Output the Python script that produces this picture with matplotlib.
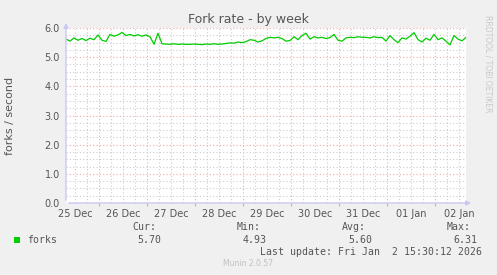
import matplotlib
matplotlib.use('Agg')
import matplotlib.pyplot as plt
import matplotlib.dates as mdates
from matplotlib.patches import Rectangle
from matplotlib.ticker import MultipleLocator, FuncFormatter
import numpy as np
import pandas as pd

# fork rate, 2-hour samples from 25 Dec 07:30 to 02 Jan 15:30
forks = [5.62, 5.55, 5.66, 5.58, 5.64, 5.57, 5.65, 5.60, 5.76, 5.58,
         5.54, 5.78, 5.72, 5.76, 5.85, 5.74, 5.78, 5.73, 5.77, 5.72,
         5.76, 5.70, 5.44, 5.82, 5.46, 5.45, 5.44, 5.46, 5.44, 5.45,
         5.44, 5.44, 5.45, 5.44, 5.43, 5.45, 5.44, 5.46, 5.44, 5.45,
         5.47, 5.49, 5.48, 5.52, 5.50, 5.53, 5.60, 5.58, 5.52, 5.56,
         5.64, 5.68, 5.66, 5.68, 5.64, 5.55, 5.57, 5.70, 5.60, 5.74,
         5.82, 5.62, 5.70, 5.66, 5.68, 5.64, 5.67, 5.78, 5.58, 5.55,
         5.66, 5.68, 5.67, 5.70, 5.68, 5.68, 5.66, 5.70, 5.67, 5.68,
         5.55, 5.74, 5.60, 5.50, 5.66, 5.62, 5.72, 5.84, 5.60, 5.52,
         5.65, 5.58, 5.78, 5.60, 5.66, 5.55, 5.42, 5.74, 5.62, 5.56,
         5.68]
times = pd.date_range("2025-12-25 07:30", periods=len(forks), freq="2h")

stat_names = ["Cur:", "Min:", "Avg:", "Max:"]
stat_values = ["5.70", "4.93", "5.60", "6.31"]
last_update = "Last update: Fri Jan  2 15:30:12 2026"

W, H = 497, 275
BG = '#F0F0F0'
TXT = '#555555'
AXC = '#C8C8F4'


def fx(x):
    return x / W


def fy(y):
    return 1 - y / H


fig = plt.figure(figsize=(W / 100, H / 100), dpi=100, facecolor=BG)
ax = fig.add_axes([fx(66), fy(203), fx(400), 175 / H])
ax.set_facecolor('white')

ax.plot(times, forks, color='#00CC00', lw=0.9)

ax.set_xlim(times[0], times[-1])
ax.set_ylim(0, 6.0)

ax.yaxis.set_major_locator(MultipleLocator(1.0))
ax.yaxis.set_minor_locator(MultipleLocator(0.25))
ax.yaxis.set_major_formatter(FuncFormatter(lambda v, p: f"{v:.1f}"))

ax.xaxis.set_major_locator(mdates.DayLocator())
ax.xaxis.set_minor_locator(mdates.HourLocator(byhour=[0, 6, 12, 18]))
ax.xaxis.set_major_formatter(FuncFormatter(lambda v, p: ""))


def noon_label(v, p):
    d = mdates.num2date(v)
    return d.strftime("%d %b") if d.hour == 12 else ""


ax.xaxis.set_minor_formatter(FuncFormatter(noon_label))

ax.grid(which='minor', color='#CCCCCC', ls=(0, (1, 2)), lw=0.8)
ax.grid(which='major', color='#F2ACAC', ls=(0, (1, 2)), lw=0.8)
ax.set_axisbelow(True)

for s in ax.spines.values():
    s.set_visible(False)
ax.tick_params(axis='y', which='both', length=0, pad=4.5, labelsize=7, labelcolor=TXT)
ax.tick_params(axis='x', which='minor', length=0, pad=4, labelsize=7, labelcolor=TXT)
ax.tick_params(axis='x', which='major', length=2, color='#F2A0A0', pad=4)

# axis arrows
ax.annotate('', xy=(1.02, 0), xytext=(0, 0), xycoords='axes fraction',
            arrowprops=dict(arrowstyle='-|>', color=AXC, lw=1, mutation_scale=7))
ax.annotate('', xy=(0, 1.045), xytext=(0, 0), xycoords='axes fraction',
            arrowprops=dict(arrowstyle='-|>', color=AXC, lw=1, mutation_scale=7))

fig.text(fx(248.5), fy(19), "Fork rate - by week", ha='center', va='center',
         fontsize=9, color=TXT)
fig.text(fx(10), fy(116), "forks / second", rotation=90, ha='center', va='center',
         fontsize=8, color=TXT)
fig.text(fx(488), fy(15), "RRDTOOL / TOBI OETIKER", rotation=270, ha='center', va='top',
         fontsize=5.5, color='#C8C8C8')

mono = dict(family='DejaVu Sans Mono', fontsize=7.1, color=TXT, va='center')
head_x = [132, 237, 342, 447]
val_x = [137, 243, 348, 453]
for name, hx in zip(stat_names, head_x):
    fig.text(fx(hx), fy(227), name, ha='left', **mono)
for val, vx in zip(stat_values, val_x):
    fig.text(fx(vx), fy(240), val, ha='left', **mono)
fig.patches.append(Rectangle((fx(14), fy(243)), fx(6), 6 / H, transform=fig.transFigure,
                             facecolor='#00CC00', edgecolor='none'))
fig.text(fx(27), fy(240), "forks", ha='left', **mono)
fig.text(fx(482), fy(252), last_update, ha='right', **mono)
fig.text(fx(248), fy(264), "Munin 2.0.57", ha='center', va='center', fontsize=5.5,
         color='#C0C0C0')

fig.savefig('out.png', dpi=100, facecolor=BG)
